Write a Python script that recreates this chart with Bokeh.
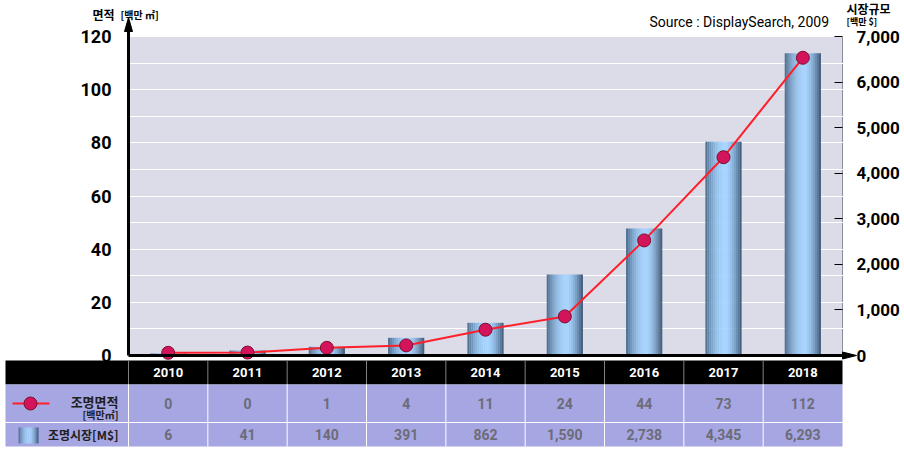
from bokeh.plotting import figure
from bokeh.models import Range1d, LinearAxis, FixedTicker, Grid, NumeralTickFormatter
from bokeh.embed import file_html
from bokeh.resources import INLINE
from bokeh.core.properties import value

# ---------------- data ----------------
years = ["2010", "2011", "2012", "2013", "2014", "2015", "2016", "2017", "2018"]
area_table = ["0", "0", "1", "4", "11", "24", "44", "73", "112"]
market_table = ["6", "41", "140", "391", "862", "1,590", "2,738", "4,345", "6,293"]
# values as drawn in the chart
area_drawn = [1.0, 1.1, 2.9, 3.8, 9.7, 14.7, 43.3, 74.6, 112.0]
market_drawn = [45, 110, 190, 388, 717, 1777, 2786, 4693, 6634]
left_ticks = [0, 20, 40, 60, 80, 100, 120]
left_minor = [0, 10, 20, 30, 40, 50, 60, 70, 80, 90, 100, 110, 120]
right_ticks = [0, 1000, 2000, 3000, 4000, 5000, 6000, 7000]

# ---------------- layout constants (pixels) ----------------
W, H = 902, 450
NCAT = len(years)
X0P, X1P = 128, 842      # plot area left/right
Y0P, Y1P = 355, 36       # plot area bottom/top
ux = (X1P - X0P) / NCAT
YMAX = left_ticks[-1]
uy = (Y0P - Y1P) / YMAX
NUM = "Roboto"
KR = "Noto Sans CJK KR"


def px(page_x):
    return (page_x - X0P) / ux


def py(page_y):
    return (Y0P - page_y) / uy


xc = [i + 0.5 for i in range(NCAT)]
scale_r = right_ticks[-1] / YMAX

p = figure(width=W, height=H, x_range=Range1d(px(0), px(W)), y_range=Range1d(py(H), py(0)),
           output_backend="svg", toolbar_location=None, x_axis_location=None,
           y_axis_location=None, min_border=0, min_border_left=0, min_border_right=0,
           min_border_top=0, min_border_bottom=0, outline_line_color=None,
           background_fill_color="white", border_fill_color="white")
p.xgrid.visible = False
p.ygrid.visible = False
p.extra_y_ranges = {"mkt": Range1d(py(H) * scale_r, py(0) * scale_r)}

# plot area background
p.quad(left=[0], right=[NCAT], bottom=[0], top=[YMAX], fill_color="#dcdce9",
       line_color="#8c8c9c", line_width=1, level="image")
grid = Grid(dimension=1, ticker=FixedTicker(ticks=left_minor), grid_line_color="white",
            grid_line_width=1)
p.add_layout(grid)

ya = LinearAxis(ticker=FixedTicker(ticks=left_ticks), fixed_location=0)
ya.axis_line_color = None
ya.major_tick_line_color = None
ya.minor_tick_line_color = None
ya.major_label_text_font = NUM
ya.major_label_text_font_style = "bold"
ya.major_label_text_font_size = "18px"
ya.major_label_text_color = "black"
ya.major_label_standoff = 11
p.add_layout(ya, "left")

ra = LinearAxis(y_range_name="mkt", ticker=FixedTicker(ticks=right_ticks),
                formatter=NumeralTickFormatter(format="0,0"), fixed_location=NCAT)
ra.axis_line_color = None
ra.major_tick_in = 8
ra.major_tick_out = 0
ra.major_tick_line_color = "black"
ra.minor_tick_line_color = None
ra.major_label_text_font = NUM
ra.major_label_text_font_style = "bold"
ra.major_label_text_font_size = "17px"
ra.major_label_text_color = "black"
ra.major_label_standoff = 14
p.add_layout(ra, "right")

# gradient bars (vertical strips)
N = 18
bar_w = 0.455
dark_l = (74, 104, 136)
light = (166, 212, 255)
dark_r = (58, 84, 114)
peak = 0.56


def grad(t):
    if t <= peak:
        s = 1 - ((peak - t) / peak) ** 2
        c0 = dark_l
    else:
        s = 1 - ((t - peak) / (1 - peak)) ** 1.6
        c0 = dark_r
    col = tuple(int(round(c0[j] + (light[j] - c0[j]) * s)) for j in range(3))
    return "#%02x%02x%02x" % col


for k in range(N):
    off = -bar_w / 2 + (k + 0.5) * bar_w / N
    p.vbar(x=[x + off for x in xc], width=bar_w / N * 1.08, top=market_drawn,
           y_range_name="mkt", fill_color=grad((k + 0.5) / N), line_color=None)

p.line(xc, area_drawn, line_color="#ff1f2a", line_width=2)
p.scatter(xc, area_drawn, size=13, fill_color="#d4145a", line_color="#7a1030", line_width=1)

# axis lines with arrow heads
p.segment(x0=[0, 0], y0=[0, 0], x1=[0, px(845)], y1=[py(30), 0], line_color="black",
          line_width=3)
p.patches(xs=[[px(124), px(132), px(128)], [px(842), px(842), px(856)]],
          ys=[[py(31), py(31), py(17)], [py(351.5), py(358.5), py(355)]],
          fill_color="black", line_color="black", line_width=1)

# titles
p.text(x=[px(92)], y=[py(14)], text=["면적"], text_font=value(KR), text_font_style="bold",
       text_font_size="12px", text_baseline="middle", text_color="black")
p.text(x=[px(120)], y=[py(14)], text=["[백만 ㎡]"], text_font=value(KR),
       text_font_style="bold", text_font_size="10px", text_baseline="middle", text_color="black")
p.text(x=[px(846)], y=[py(8)], text=["시장규모"], text_font=value(KR), text_font_style="bold",
       text_font_size="12px", text_baseline="middle", text_color="black")
p.text(x=[px(846)], y=[py(21)], text=["[백만 $]"], text_font=value(KR),
       text_font_style="bold", text_font_size="9px", text_baseline="middle", text_color="black")
p.text(x=[px(832)], y=[py(21)], text=["Source :  DisplaySearch, 2009"], text_font=value(NUM),
       text_font_size="14px", text_align="right", text_baseline="middle", text_color="black")

# ---------------- table ----------------
rows = [py(360), py(384), py(422), py(446)]
tl = px(5)
p.quad(left=[tl], right=[NCAT], bottom=[rows[1]], top=[rows[0]], fill_color="black",
       line_color=None)
p.quad(left=[tl, tl], right=[NCAT, NCAT], bottom=[rows[2], rows[3]], top=[rows[1], rows[2]],
       fill_color="#a6a6e2", line_color=None)
bounds = list(range(NCAT))
p.segment(x0=bounds, x1=bounds, y0=[rows[1]] * NCAT, y1=[rows[0]] * NCAT,
          line_color="white", line_width=1, line_dash="1 1")
p.segment(x0=bounds, x1=bounds, y0=[rows[3]] * NCAT, y1=[rows[1]] * NCAT,
          line_color="white", line_width=1)
p.segment(x0=[tl], x1=[NCAT], y0=[rows[2]], y1=[rows[2]], line_color="white", line_width=1)

hy = (rows[0] + rows[1]) / 2
r1y = (rows[1] + rows[2]) / 2
r2y = (rows[2] + rows[3]) / 2
p.text(x=xc, y=[hy] * NCAT, text=years, text_font=value(NUM),
       text_font_style="bold", text_font_size="13px", text_color="white",
       text_align="center", text_baseline="middle")
p.text(x=xc, y=[r1y] * NCAT, text=area_table, text_font=value(NUM),
       text_font_style="bold", text_font_size="14px", text_color="#6c6c78",
       text_align="center", text_baseline="middle")
p.text(x=xc, y=[r2y] * NCAT, text=market_table, text_font=value(NUM),
       text_font_style="bold", text_font_size="14px", text_color="#6c6c78",
       text_align="center", text_baseline="middle")

# legend-like symbols in the label column
p.line([px(12), px(49)], [r1y, r1y], line_color="#ff1f2a", line_width=2)
p.scatter([px(30)], [r1y], size=13, fill_color="#d4145a", line_color="#7a1030", line_width=1)
NI = 10
iw = px(38) - px(18)
for k in range(NI):
    p.quad(left=[px(18) + k * iw / NI], right=[px(18) + (k + 1.08) * iw / NI],
           bottom=[py(443)], top=[py(427)], fill_color=grad((k + 0.5) / NI), line_color=None)

p.text(x=[px(118)], y=[py(401)], text=["조명면적"], text_font=value(KR),
       text_font_style="bold", text_font_size="13px", text_color="#202020",
       text_align="right", text_baseline="middle")
p.text(x=[px(118)], y=[py(414)], text=["[백만㎡]"], text_font=value(KR),
       text_font_style="bold", text_font_size="10px", text_color="#202020",
       text_align="right", text_baseline="middle")
p.text(x=[px(118)], y=[r2y], text=["조명시장[M$]"], text_font=value(KR),
       text_font_style="bold", text_font_size="12px", text_color="#202020",
       text_align="right", text_baseline="middle")

open("out.html", "w").write(file_html(p, INLINE))
